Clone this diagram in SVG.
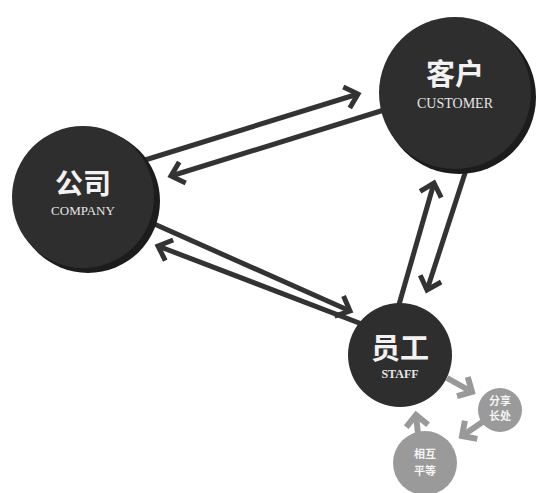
<svg xmlns="http://www.w3.org/2000/svg" width="539" height="493" viewBox="0 0 539 493">
<defs>
<style>
.conn{stroke:#333;stroke-width:5;fill:none;stroke-linecap:butt}
.gconn{stroke:#999;stroke-width:6;fill:none}
.big{fill:#2e2e2e}
.rim{fill:#1c1c1c}
.small{fill:#9a9a9a}
.zh{font-family:"Liberation Serif","Noto Sans CJK SC",serif;font-weight:bold;fill:#f2f2f2;text-anchor:middle}
.en{font-family:"Liberation Serif",serif;fill:#e6e6e6;text-anchor:middle}
.zs{font-family:"Liberation Serif","Noto Sans CJK SC",serif;font-weight:bold;fill:#f4f4f4;text-anchor:middle;font-size:11px}
</style>
<marker id="ah" viewBox="-16 -14 20 28" markerWidth="20" markerHeight="28" refX="0" refY="0" orient="auto" markerUnits="userSpaceOnUse">
<path d="M-12,-11 L0,0 L-12,11" fill="none" stroke="#333" stroke-width="5"/>
</marker>
<marker id="gh" viewBox="-16 -14 20 28" markerWidth="20" markerHeight="28" refX="0" refY="0" orient="auto" markerUnits="userSpaceOnUse">
<path d="M-11,-11 L0,0 L-11,11" fill="none" stroke="#999" stroke-width="6"/>
</marker>
</defs>
<rect width="539" height="493" fill="#fff"/>
<g id="connectors">
<line class="conn" x1="145" y1="160" x2="358" y2="94" marker-end="url(#ah)"/>
<line class="conn" x1="384" y1="110" x2="171" y2="176" marker-end="url(#ah)"/>
<line class="conn" x1="152" y1="223" x2="350" y2="311" marker-end="url(#ah)"/>
<line class="conn" x1="380" y1="331" x2="158" y2="246" marker-end="url(#ah)"/>
<line class="conn" x1="398" y1="308" x2="434" y2="183" marker-end="url(#ah)"/>
<line class="conn" x1="467" y1="167" x2="427" y2="290" marker-end="url(#ah)"/>
<line class="gconn" x1="447" y1="378" x2="472" y2="392" marker-end="url(#gh)"/>
<line class="gconn" x1="484" y1="421" x2="462" y2="436" marker-end="url(#gh)"/>
<line class="gconn" x1="418" y1="434" x2="416" y2="415" marker-end="url(#gh)"/>
</g>
<g id="company">
<circle class="rim" cx="88" cy="201" r="72"/>
<circle class="big" cx="83" cy="197" r="71"/>
<text class="zh" x="83" y="194" font-size="28">公司</text>
<text class="en" x="83" y="215" font-size="13">COMPANY</text>
</g>
<g id="customer">
<circle class="rim" cx="459" cy="97" r="77"/>
<circle class="big" cx="455" cy="93" r="76"/>
<text class="zh" x="455" y="85" font-size="29">客户</text>
<text class="en" x="455" y="108" font-size="14">CUSTOMER</text>
</g>
<g id="staff">
<circle class="big" cx="400" cy="355" r="52"/>
<text class="zh" x="400" y="359" font-size="29">员工</text>
<text class="en" x="400" y="378" font-size="12" font-weight="bold">STAFF</text>
</g>
<g id="share">
<circle class="small" cx="500" cy="410" r="22"/>
<text class="zs" x="500" y="405">分享</text>
<text class="zs" x="500" y="420">长处</text>
</g>
<g id="equal">
<circle class="small" cx="425" cy="463" r="32"/>
<text class="zs" x="425" y="458">相互</text>
<text class="zs" x="425" y="475">平等</text>
</g>
</svg>
